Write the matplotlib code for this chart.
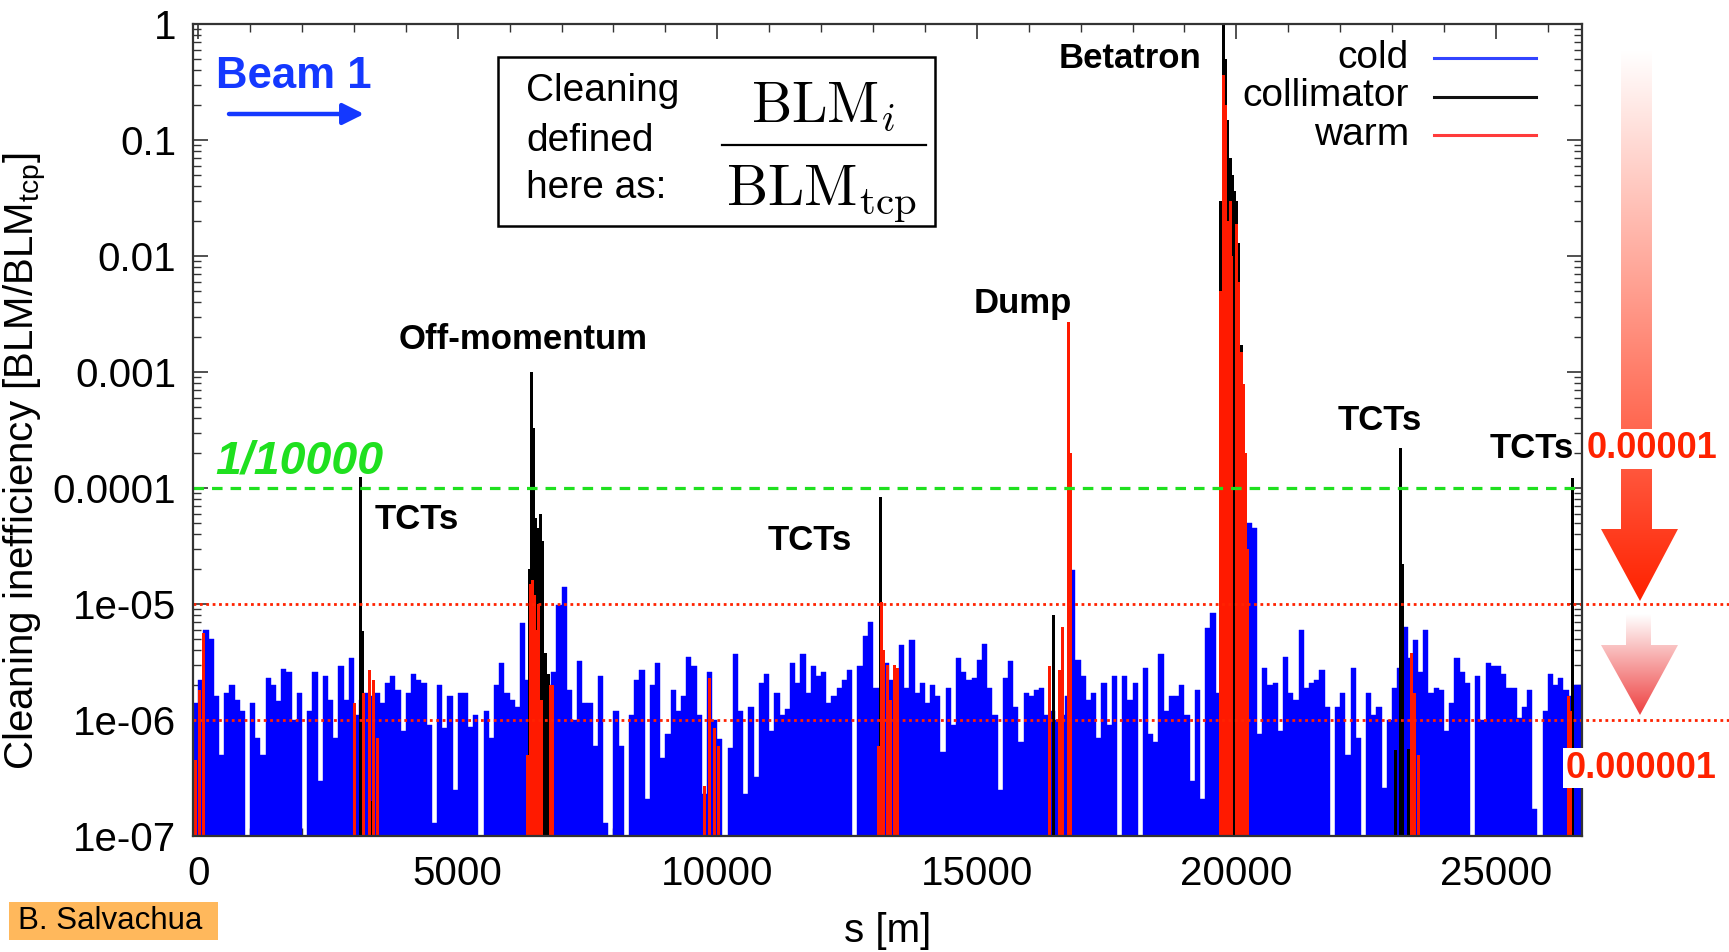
import numpy as np
import matplotlib.pyplot as plt
from matplotlib.colors import LinearSegmentedColormap
from matplotlib.patches import Polygon, Rectangle
from matplotlib.ticker import FixedLocator, FixedFormatter, MultipleLocator, LogLocator, NullFormatter

plt.rcParams['font.family'] = ['Liberation Sans', 'DejaVu Sans']
plt.rcParams['mathtext.fontset'] = 'custom'
plt.rcParams['mathtext.rm'] = 'Liberation Sans'
plt.rcParams['mathtext.it'] = 'Liberation Sans:italic'
plt.rcParams['mathtext.bf'] = 'Liberation Sans:bold'

# ---- loss map, beam 1 -------------------------------------------------
RING = 26659          # LHC circumference [m]
COLD_START = -100     # first edge of the cold BLM bins [m]
COLD_STEP = 100       # cold bins are 100 m wide

# cold BLMs, one value per 100 m bin starting at COLD_START
cold_loss = [
    1.4e-6, 2.2e-6, 6.0e-6, 5.0e-6, 1.6e-6, 5.0e-7, 1.7e-6, 2.0e-6, 1.5e-6, 1.2e-6,
    0, 1.4e-6, 7.0e-7, 5.0e-7, 2.3e-6, 2.0e-6, 1.45e-6, 2.75e-6, 2.6e-6, 1.0e-6,
    1.7e-6, 0, 1.2e-6, 2.6e-6, 3.0e-7, 2.4e-6, 1.5e-6, 7.0e-7, 2.9e-6, 1.5e-6,
    3.4e-6, 1.1e-6, 1.5e-6, 1.7e-6, 1.6e-6, 1.7e-6, 1.4e-6, 2.1e-6, 2.4e-6, 1.8e-6,
    8.0e-7, 1.7e-6, 2.5e-6, 2.2e-6, 2.1e-6, 9.0e-7, 1.3e-7, 2.0e-6, 8.6e-7, 1.6e-6,
    2.5e-7, 1.7e-6, 1.7e-6, 8.7e-7, 1.1e-6, 0, 1.2e-6, 7.0e-7, 2.0e-6, 3.1e-6,
    1.7e-6, 1.5e-6, 1.3e-6, 6.8e-6, 2.2e-6, 2.0e-6, 2.0e-6, 2.0e-6, 2.0e-6, 2.6e-6,
    9.8e-6, 1.4e-5, 1.8e-6, 1.0e-6, 3.2e-6, 1.4e-6, 1.4e-6, 6.0e-7, 2.4e-6, 1.3e-7,
    0, 1.2e-6, 6.0e-7, 0, 1.1e-6, 2.2e-6, 2.7e-6, 2.1e-7, 2.0e-6, 3.1e-6,
    4.7e-7, 7.5e-7, 1.8e-6, 1.2e-6, 1.6e-6, 3.5e-6, 2.9e-6, 1.1e-6, 2.3e-7, 2.6e-6,
    1.0e-6, 6.8e-7, 0, 5.7e-7, 3.7e-6, 1.2e-6, 2.3e-7, 1.3e-6, 3.2e-7, 2.1e-6,
    2.5e-6, 8.0e-7, 1.7e-6, 1.1e-6, 1.25e-6, 3.1e-6, 2.1e-6, 3.7e-6, 1.7e-6, 2.9e-6,
    2.4e-6, 2.6e-6, 1.4e-6, 1.6e-6, 1.9e-6, 2.2e-6, 2.7e-6, 0, 2.9e-6, 5.3e-6,
    7.0e-6, 1.9e-6, 1.9e-6, 3.1e-6, 2.2e-6, 2.3e-6, 4.4e-6, 1.9e-6, 4.9e-6, 1.7e-6,
    2.1e-6, 1.4e-6, 2.0e-6, 1.6e-6, 5.3e-7, 1.9e-6, 9.0e-7, 3.4e-6, 2.6e-6, 2.2e-6,
    2.3e-6, 3.3e-6, 4.5e-6, 1.9e-6, 1.1e-6, 2.5e-7, 2.3e-6, 3.2e-6, 1.3e-6, 6.5e-7,
    1.7e-6, 1.6e-6, 1.8e-6, 1.9e-6, 1.1e-6, 1.2e-6, 1.0e-6, 1.1e-6, 1.6e-6, 1.96e-5,
    3.3e-6, 2.4e-6, 1.5e-6, 1.7e-6, 7.0e-7, 2.1e-6, 9.0e-7, 2.4e-6, 0, 2.4e-6,
    1.5e-6, 2.1e-6, 0, 2.8e-6, 7.5e-7, 6.5e-7, 3.7e-6, 1.2e-6, 1.6e-6, 1.6e-6,
    2.0e-6, 1.1e-6, 3.0e-7, 1.8e-6, 2.1e-7, 6.2e-6, 8.3e-6, 1.7e-6, 2.0e-6, 2.0e-6,
    2.0e-6, 2.0e-6, 2.0e-6, 5.0e-5, 4.5e-5, 7.5e-7, 2.8e-6, 2.0e-6, 2.1e-6, 8.0e-7,
    3.5e-6, 1.7e-6, 1.5e-6, 6.0e-6, 1.9e-6, 2.1e-6, 2.2e-6, 2.7e-6, 1.3e-6, 0,
    1.3e-6, 1.7e-6, 5.0e-7, 2.8e-6, 7.0e-7, 0, 1.7e-6, 1.1e-6, 1.3e-6, 2.6e-7,
    1.0e-6, 1.9e-6, 2.8e-6, 6.3e-6, 3.4e-6, 4.9e-6, 2.6e-6, 6.0e-6, 1.7e-6, 1.9e-6,
    1.8e-6, 8.0e-7, 1.4e-6, 3.4e-6, 2.6e-6, 2.1e-6, 0, 2.4e-6, 1.0e-6, 3.1e-6,
    2.9e-6, 2.9e-6, 2.5e-6, 1.9e-6, 1.9e-6, 1.05e-6, 1.3e-6, 1.8e-6, 1.7e-7, 0,
    1.2e-6, 2.5e-6, 2.0e-6, 2.3e-6, 1.8e-6, 1.6e-6, 2.0e-6, 2.0e-6,
]

# collimator BLMs
coll_s = [3120, 3170, 3340,
          6380, 6430, 6460, 6500, 6540, 6600, 6640, 6700, 6750,
          13150, 13175, 16470,
          19700, 19745, 19790, 19835, 19880, 19920, 19960, 20000, 20045, 20090, 20135,
          23075, 23160, 23200, 23320, 26480]
coll_loss = [1.25e-4, 5.8e-6, 2e-7,
             2e-5, 1.0e-3, 3.3e-4, 5.5e-5, 4.5e-5, 6e-5, 3.5e-5, 3.8e-6, 2.5e-6,
             8.4e-5, 2e-6, 8e-6,
             0.03, 1.0, 0.5, 0.15, 0.07, 0.05, 0.036, 0.03, 0.013, 1.7e-3, 6e-4,
             5.5e-7, 2.2e-4, 2.2e-5, 5.6e-7, 1.23e-4]

# warm BLMs
warm_s = [-60, 20, 100,
          3020, 3180, 3300, 3380, 3460,
          6340, 6400, 6440, 6480, 6520, 6560, 6620, 6780, 6830,
          9760, 9850, 9940, 10030,
          13110, 13160, 13210, 13280, 13330, 13410, 13470,
          16400, 16590, 16650, 16760, 16800,
          19700, 19745, 19790, 19835, 19880, 19915,
          20005, 20045, 20090, 20135, 20180, 20215,
          23380, 23440, 23500, 26400, 26440]
warm_loss = [4.5e-7, 1.8e-6, 5.6e-6,
             1.4e-6, 1.7e-6, 2.7e-6, 2.2e-6, 7e-7,
             5e-7, 1.5e-5, 1.6e-5, 1.2e-5, 6e-6, 1e-5, 1.5e-6, 2e-6, 2e-6,
             2.7e-7, 2.3e-6, 8.6e-7, 6e-7,
             6e-7, 1.05e-5, 4e-6, 3e-6, 1.5e-6, 3e-6, 2.8e-6,
             2.9e-6, 2.7e-6, 6.3e-6, 2.7e-3, 2e-4,
             5e-3, 0.36, 0.2, 0.02, 0.03, 0.01,
             0.019, 6e-3, 1.5e-3, 7.9e-4, 2e-4, 3e-5,
             3.8e-6, 1.7e-6, 5e-7, 1.6e-6, 1.2e-6]

series = ['cold', 'collimator', 'warm']
colors = ['#0000ff', '#000000', '#ff1a00']
legend_colors = ['#3344ff', '#111111', '#ff3b3b']

threshold = 1e-4
threshold_label = '1/10000'
levels = [1e-5, 1e-6]
level_labels = ['0.00001', '0.000001']

ytick_vals = [1, 0.1, 0.01, 1e-3, 1e-4, 1e-5, 1e-6, 1e-7]
ytick_labels = ['1', '0.1', '0.01', '0.001', '0.0001', '1e-05', '1e-06', '1e-07']

# region tags (text, s, level)
regions = [('Betatron', 17954, 0.50), ('Dump', 15890, 3.9e-3),
           ('Off-momentum', 6258, 1.9e-3), ('TCTs', 4216, 5.4e-5),
           ('TCTs', 11788, 3.5e-5), ('TCTs', 22771, 3.8e-4),
           ('TCTs', 25700, 2.2e-4)]

W, H = 1729, 952
fig = plt.figure(figsize=(W / 100, H / 100), dpi=100)
ax = fig.add_axes([193 / W, 1 - 836 / H, 1389 / W, 812 / H])
ax.set_yscale('log')
ax.set_xlim(-100, RING)
ax.set_ylim(1e-7, 1)

edges = COLD_START + COLD_STEP * np.arange(len(cold_loss))
ax.bar(edges, cold_loss, width=COLD_STEP, align='edge', color=colors[0],
       edgecolor=colors[0], linewidth=0.3, zorder=2)
ax.bar(coll_s, coll_loss, width=58, color=colors[1], linewidth=0, zorder=3)
ax.bar(warm_s, warm_loss, width=58, color=colors[2], linewidth=0, zorder=4)

ax.axhline(threshold, color='#1fe01f', lw=2.3, ls=(0, (3.3, 2.5)), zorder=5)
for lv in levels:
    ax.plot([0.0, 1.11], [lv, lv], transform=ax.get_yaxis_transform(),
            color='#ff2200', lw=2.0, ls=(0, (1, 1.3)), clip_on=False, zorder=6)

for txt, s, lv in regions:
    ax.text(s, lv, txt, ha='center', va='center', fontsize=25,
            fontweight='bold', zorder=7)

# axes styling, gnuplot-like
ax.xaxis.set_major_locator(MultipleLocator(5000))
ax.xaxis.set_minor_locator(MultipleLocator(1000))
ax.yaxis.set_major_locator(FixedLocator(ytick_vals))
ax.yaxis.set_major_formatter(FixedFormatter(ytick_labels))
ax.yaxis.set_minor_locator(LogLocator(base=10, subs=np.arange(2, 10), numticks=20))
ax.yaxis.set_minor_formatter(NullFormatter())
ax.tick_params(which='both', direction='in', top=True, right=True, color='#333333')
ax.tick_params(which='major', length=11, width=1.2, labelsize=29, pad=12)
ax.tick_params(axis='x', which='major', pad=14)
ax.tick_params(which='minor', length=6, width=1.0)
for sp in ax.spines.values():
    sp.set_linewidth(1.6)
    sp.set_color('#333333')
    sp.set_zorder(8)

ax.set_ylabel(r'Cleaning inefficiency [BLM/BLM$_{\mathrm{tcp}}$]', fontsize=29)
ax.yaxis.set_label_coords(-0.104, 0.462)
ax.set_xlabel('s [m]', fontsize=29)
ax.xaxis.set_label_coords(0.5, -0.094)

# ---- overlay in pixel units for the annotations ----------------------
ov = fig.add_axes([0, 0, 1, 1], zorder=10)
ov.set_xlim(0, W)
ov.set_ylim(H, 0)
ov.axis('off')

# legend: right-aligned names with line samples
for i, (name, col) in enumerate(zip(series, legend_colors)):
    y = 58 + i * 38.5
    ov.text(1409, y, name, ha='right', va='center', fontsize=28)
    ov.plot([1434, 1536], [y, y], color=col, lw=2.2)

# definition box
ov.add_patch(Rectangle((498, 57), 437, 169, facecolor='white',
                       edgecolor='black', lw=1.8))
for y, line in zip([101, 151, 198], ['Cleaning', 'defined', 'here as:']):
    ov.text(526, y, line, ha='left', va='baseline', fontsize=28)
ov.text(823, 121, r'$\mathrm{BLM}_i$', ha='center', va='baseline',
        fontsize=41, math_fontfamily='cm')
ov.plot([722, 926], [144.5, 144.5], color='black', lw=1.6)
ov.text(822, 206, r'$\mathrm{BLM}_{\mathrm{tcp}}$', ha='center', va='baseline',
        fontsize=42, math_fontfamily='cm')

# beam direction
ov.text(294, 77, 'Beam 1', ha='center', va='center', fontsize=31.5,
        fontweight='bold', color='#1438ff')
ov.annotate('', xy=(364, 114), xytext=(229, 114),
            arrowprops=dict(arrowstyle='-|>', color='#1438ff', lw=3.2,
                            mutation_scale=32, shrinkA=0, shrinkB=0))

ov.text(299, 461, threshold_label, ha='center', va='center', fontsize=33.5,
        fontweight='bold', style='italic', color='#1fe01f')

# improvement arrows with a white-to-red fade
grad = np.linspace(0, 1, 256)[:, None]
arrows = [
    ([(1621, 50), (1652, 50), (1652, 529), (1678, 529), (1640, 601),
      (1601, 529), (1621, 529)], (50, 601), '#ff2200'),
    ([(1626, 614), (1651, 614), (1651, 645), (1678, 645), (1640, 715),
      (1601, 645), (1626, 645)], (614, 715), '#ee4040'),
]
for verts, (y0, y1), col in arrows:
    cmap = LinearSegmentedColormap.from_list('fade', ['#ffffff', col])
    im = ov.imshow(grad, cmap=cmap, aspect='auto', origin='upper',
                   extent=(1598, 1682, y1, y0), interpolation='bilinear')
    clip = Polygon(verts, closed=True, transform=ov.transData, fill=False, lw=0)
    ov.add_patch(clip)
    im.set_clip_path(clip)

ov.text(1652, 449, level_labels[0], ha='center', va='center', fontsize=26,
        fontweight='bold', color='#ff2200',
        bbox=dict(facecolor='white', edgecolor='none', pad=2))
ov.text(1641, 768, level_labels[1], ha='center', va='center', fontsize=26,
        fontweight='bold', color='#ff2200',
        bbox=dict(facecolor='white', edgecolor='none', pad=2))

# author tag
ov.add_patch(Rectangle((9, 902), 209, 38, facecolor='#ffb85c', edgecolor='none'))
ov.text(18, 921, 'B. Salvachua', ha='left', va='center', fontsize=22.5)

fig.savefig('out.png', dpi=100)
